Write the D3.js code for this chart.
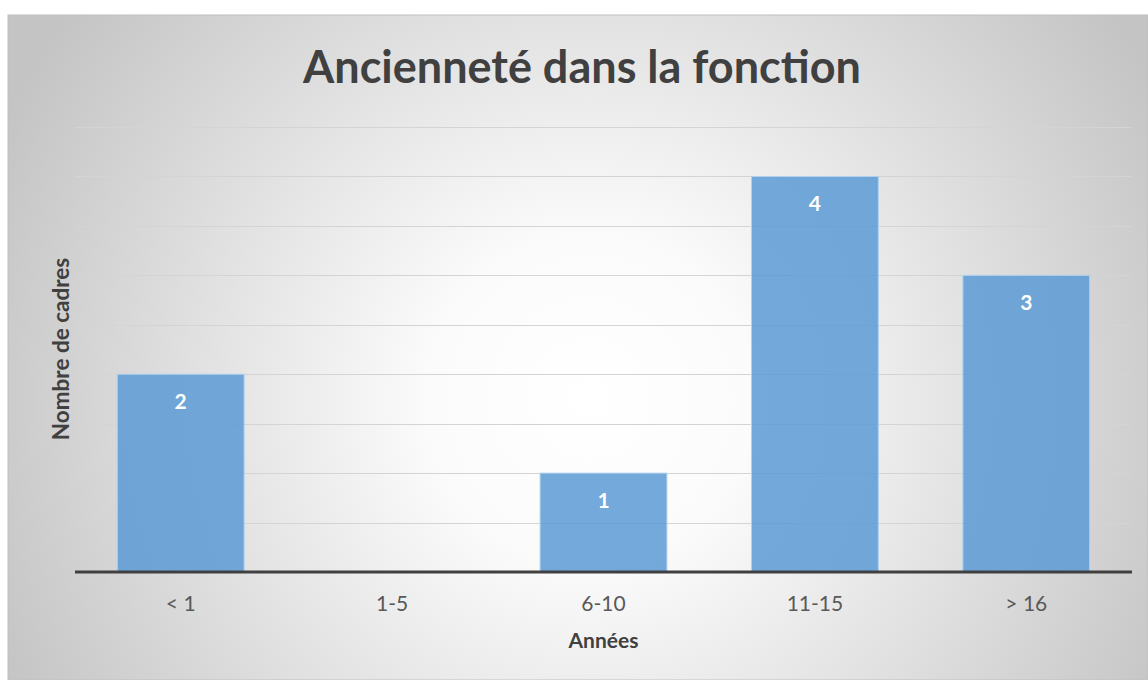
<!DOCTYPE html>
<meta charset="utf-8">
<style>
body { margin: 0; background: #fff; }
text { font-family: Lato, "Open Sans", sans-serif; }
</style>
<body>
<svg width="1148" height="680"></svg>

<!-- load the d3.js library -->
<script src="https://cdn.jsdelivr.net/npm/d3@7/dist/d3.min.js"></script>

<script>

// data
var categories = ["< 1", "1-5", "6-10", "11-15", "> 16"];
var cadres = [2, null, 1, 4, 3];
var gridTicks = [0.5, 1, 1.5, 2, 2.5, 3, 3.5, 4, 4.5];

var title = "Ancienneté dans la fonction";
var xTitle = "Années";
var yTitle = "Nombre de cadres";

var svg = d3.select("svg");

// chart background, radial grey gradient
var grad = svg.append("defs").append("radialGradient")
    .attr("id", "bg")
    .attr("gradientUnits", "userSpaceOnUse")
    .attr("cx", 590).attr("cy", 400).attr("r", 650);
grad.append("stop").attr("offset", "0").attr("stop-color", "#ffffff");
grad.append("stop").attr("offset", "0.25").attr("stop-color", "#fbfbfb");
grad.append("stop").attr("offset", "1").attr("stop-color", "#c4c4c4");

svg.append("rect")
    .attr("x", 8).attr("y", 15)
    .attr("width", 1140).attr("height", 665)
    .attr("fill", "url(#bg)")
    .attr("stroke", "#c0c0c0")
    .attr("stroke-width", 1);

var plot = {left: 75, right: 1132, top: 127, bottom: 572};

var x = d3.scaleBand()
    .domain(categories)
    .range([plot.left, plot.right])
    .paddingInner(0.4)
    .paddingOuter(0.2);

var y = d3.scaleLinear()
    .domain([0, 4.5])
    .range([plot.bottom, plot.top]);

// gridlines
svg.append("g")
    .attr("class", "grid")
    .selectAll("line")
    .data(gridTicks)
    .enter().append("line")
    .attr("x1", plot.left).attr("x2", plot.right)
    .attr("y1", function(d) { return Math.round(y(d)) + 0.5; })
    .attr("y2", function(d) { return Math.round(y(d)) + 0.5; })
    .attr("stroke", "#d4d4d4")
    .attr("stroke-width", 1);

// bars
var bars = categories.map(function(c, i) { return {cat: c, val: cadres[i]}; })
    .filter(function(d) { return d.val != null; });

svg.append("g")
    .selectAll("rect")
    .data(bars)
    .enter().append("rect")
    .attr("x", function(d) { return x(d.cat); })
    .attr("y", function(d) { return y(d.val); })
    .attr("width", x.bandwidth())
    .attr("height", function(d) { return y(0) - y(d.val); })
    .attr("fill", "#5b9bd5")
    .attr("fill-opacity", 0.85)
    .attr("stroke", "#b3d1ee")
    .attr("stroke-width", 1);

// data labels
svg.append("g")
    .selectAll("text")
    .data(bars)
    .enter().append("text")
    .attr("x", function(d) { return x(d.cat) + x.bandwidth() / 2; })
    .attr("y", function(d) { return y(d.val) + 35; })
    .attr("text-anchor", "middle")
    .attr("fill", "#ffffff")
    .attr("font-weight", "bold")
    .attr("font-size", 21)
    .text(function(d) { return d.val; });

// x axis
var xAxis = d3.axisBottom(x).tickSize(0).tickPadding(24);
var gx = svg.append("g")
    .attr("transform", "translate(0," + plot.bottom + ")")
    .call(xAxis);
gx.select(".domain").remove();
gx.selectAll("text")
    .attr("fill", "#595959")
    .attr("font-size", 21)
    .attr("font-family", "Lato, sans-serif");

svg.append("line")
    .attr("x1", plot.left).attr("x2", plot.right)
    .attr("y1", plot.bottom).attr("y2", plot.bottom)
    .attr("stroke", "#404040")
    .attr("stroke-width", 3);

// titles
svg.append("text")
    .attr("x", 582).attr("y", 83)
    .attr("text-anchor", "middle")
    .attr("fill", "#404040")
    .attr("font-weight", "bold")
    .attr("font-size", 45)
    .text(title);

svg.append("text")
    .attr("x", (plot.left + plot.right) / 2).attr("y", 648)
    .attr("text-anchor", "middle")
    .attr("fill", "#404040")
    .attr("font-weight", "bold")
    .attr("font-size", 21)
    .text(xTitle);

svg.append("text")
    .attr("transform", "translate(69," + 349 + ") rotate(-90)")
    .attr("text-anchor", "middle")
    .attr("fill", "#404040")
    .attr("font-weight", "bold")
    .attr("font-size", 22.5)
    .text(yTitle);

</script>
</body>
